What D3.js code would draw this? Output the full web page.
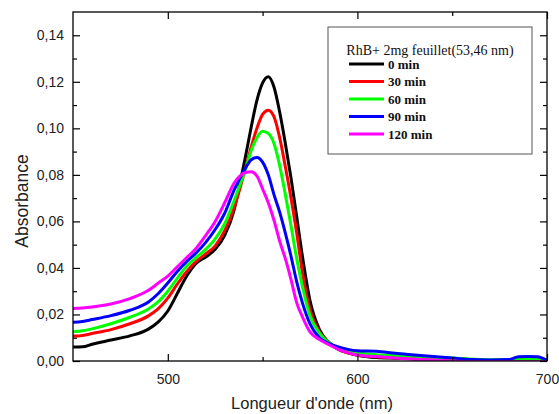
<!DOCTYPE html>
<html>
<head>
<meta charset="utf-8">
<script src="https://cdn.jsdelivr.net/npm/d3@7"></script>
<style>
  body { margin: 0; background: #fff; }
  svg { display: block; }
</style>
</head>
<body>
<div id="chart"></div>
<script>
// wavelengths (nm) shared by every series
const wavelengths = [450, 455, 460, 470, 480, 490, 495, 500, 505, 510, 515, 520, 525, 530, 535, 538, 541, 544, 547, 550, 553, 556, 559, 562, 565, 568, 571, 575, 580, 585, 590, 595, 600, 610, 620, 630, 640, 650, 660, 670, 680, 685, 690, 695, 700];

const min0 = [0.0060, 0.0061, 0.0072, 0.0090, 0.0108, 0.0138, 0.0168, 0.0215, 0.0290, 0.0365, 0.0420, 0.0447, 0.0480, 0.0540, 0.0650, 0.0760, 0.0880, 0.1006, 0.1120, 0.1195, 0.1222, 0.1178, 0.1070, 0.0935, 0.0785, 0.0620, 0.0450, 0.0260, 0.0135, 0.0080, 0.0050, 0.0035, 0.0025, 0.0015, 0.0012, 0.0010, 0.0008, 0.0003, 0.0001, 0.0000, 0.0000, 0.0000, 0.0000, 0.0000, 0.0000];
const min30 = [0.0107, 0.0110, 0.0118, 0.0135, 0.0160, 0.0195, 0.0225, 0.0270, 0.0330, 0.0385, 0.0428, 0.0460, 0.0495, 0.0560, 0.0660, 0.0740, 0.0830, 0.0920, 0.1000, 0.1060, 0.1078, 0.1050, 0.0960, 0.0835, 0.0700, 0.0550, 0.0380, 0.0220, 0.0125, 0.0078, 0.0050, 0.0035, 0.0026, 0.0018, 0.0014, 0.0012, 0.0010, 0.0008, 0.0004, 0.0002, 0.0000, 0.0000, 0.0000, 0.0000, 0.0000];
const min60 = [0.0126, 0.0130, 0.0138, 0.0160, 0.0188, 0.0225, 0.0255, 0.0300, 0.0355, 0.0408, 0.0445, 0.0480, 0.0525, 0.0590, 0.0690, 0.0755, 0.0825, 0.0905, 0.0960, 0.0988, 0.0978, 0.0935, 0.0840, 0.0715, 0.0580, 0.0440, 0.0320, 0.0195, 0.0120, 0.0078, 0.0055, 0.0042, 0.0035, 0.0027, 0.0024, 0.0020, 0.0016, 0.0013, 0.0008, 0.0005, 0.0006, 0.0008, 0.0008, 0.0008, 0.0004];
const min90 = [0.0166, 0.0170, 0.0178, 0.0195, 0.0218, 0.0255, 0.0290, 0.0335, 0.0385, 0.0428, 0.0465, 0.0510, 0.0565, 0.0635, 0.0735, 0.0785, 0.0830, 0.0865, 0.0875, 0.0855, 0.0800, 0.0715, 0.0640, 0.0550, 0.0450, 0.0340, 0.0250, 0.0160, 0.0100, 0.0075, 0.0060, 0.0050, 0.0044, 0.0042, 0.0033, 0.0026, 0.0019, 0.0013, 0.0006, 0.0004, 0.0006, 0.0018, 0.0019, 0.0018, 0.0002];
const min120 = [0.0226, 0.0228, 0.0232, 0.0245, 0.0268, 0.0305, 0.0335, 0.0365, 0.0405, 0.0445, 0.0485, 0.0540, 0.0600, 0.0680, 0.0765, 0.0795, 0.0810, 0.0813, 0.0795, 0.0740, 0.0680, 0.0605, 0.0515, 0.0440, 0.0350, 0.0250, 0.0190, 0.0125, 0.0092, 0.0070, 0.0050, 0.0036, 0.0026, 0.0019, 0.0013, 0.0008, 0.0004, 0.0000, -0.0003, -0.0003, -0.0003, -0.0003, -0.0003, -0.0003, -0.0003];

const seriesNames = ["0 min", "30 min", "60 min", "90 min", "120 min"];
const seriesValues = [min0, min30, min60, min90, min120];
const seriesColors = ["#000000", "#ff0000", "#00ff00", "#0000ff", "#ff00ff"];

const xTicks = [500, 600, 700];
const xMinorTicks = [550, 650];
const yTicks = [0, 0.02, 0.04, 0.06, 0.08, 0.10, 0.12, 0.14];
const yMinorTicks = [0.01, 0.03, 0.05, 0.07, 0.09, 0.11, 0.13];

const legendTitle = "RhB+ 2mg feuillet(53,46 nm)";

const width = 559, height = 414;
const margin = {top: 12, right: 12, bottom: 53, left: 73};
const innerW = width - margin.left - margin.right;
const innerH = height - margin.top - margin.bottom;

const svg = d3.select("#chart").append("svg")
  .attr("width", width)
  .attr("height", height);

const x = d3.scaleLinear().domain([450, 700]).range([0, innerW]);
const y = d3.scaleLinear().domain([0, 0.15]).range([innerH, 0]);

const g = svg.append("g")
  .attr("transform", `translate(${margin.left},${margin.top})`);

g.append("clipPath").attr("id", "clip")
  .append("rect").attr("width", innerW).attr("height", innerH);

const comma = d => d3.format(".2f")(d).replace(".", ",");

// curves
const line = d3.line()
  .x((d, i) => x(wavelengths[i]))
  .y(d => y(d))
  .curve(d3.curveMonotoneX);

const curves = g.append("g").attr("clip-path", "url(#clip)");
seriesValues.forEach((vals, i) => {
  curves.append("path")
    .datum(vals)
    .attr("fill", "none")
    .attr("stroke", seriesColors[i])
    .attr("stroke-width", 3)
    .attr("stroke-linejoin", "round")
    .attr("d", line);
});

// axes, ticks pointing inward on all four sides
const axisFont = "'Liberation Sans', Arial, sans-serif";

function styleAxis(sel) {
  sel.select(".domain").remove();
  sel.selectAll("line").attr("stroke", "#000").attr("stroke-width", 1.2);
  sel.selectAll("text").attr("font-family", axisFont).attr("font-size", 14).attr("fill", "#222");
}

g.append("g")
  .attr("transform", `translate(0,${innerH})`)
  .call(d3.axisBottom(x).tickValues(xTicks).tickSize(-7).tickPadding(13).tickFormat(d3.format("d")))
  .call(styleAxis);
g.append("g")
  .attr("transform", `translate(0,${innerH})`)
  .call(d3.axisBottom(x).tickValues(xMinorTicks).tickSize(-4).tickFormat(""))
  .call(styleAxis);
g.append("g")
  .call(d3.axisTop(x).tickValues(xTicks).tickSize(-7).tickFormat(""))
  .call(styleAxis);
g.append("g")
  .call(d3.axisTop(x).tickValues(xMinorTicks).tickSize(-4).tickFormat(""))
  .call(styleAxis);

g.append("g")
  .call(d3.axisLeft(y).tickValues(yTicks).tickSize(-7).tickPadding(9).tickFormat(comma))
  .call(styleAxis);
g.append("g")
  .call(d3.axisLeft(y).tickValues(yMinorTicks).tickSize(-4).tickFormat(""))
  .call(styleAxis);
g.append("g")
  .attr("transform", `translate(${innerW},0)`)
  .call(d3.axisRight(y).tickValues(yTicks).tickSize(-7).tickFormat(""))
  .call(styleAxis);
g.append("g")
  .attr("transform", `translate(${innerW},0)`)
  .call(d3.axisRight(y).tickValues(yMinorTicks).tickSize(-4).tickFormat(""))
  .call(styleAxis);

// frame
g.append("rect")
  .attr("width", innerW)
  .attr("height", innerH)
  .attr("fill", "none")
  .attr("stroke", "#000")
  .attr("stroke-width", 1.3);

// axis titles
svg.append("text")
  .attr("x", margin.left + innerW / 2 + 2)
  .attr("y", 409)
  .attr("text-anchor", "middle")
  .attr("font-family", axisFont)
  .attr("font-size", 16.5)
  .attr("fill", "#222")
  .text("Longueur d'onde (nm)");

svg.append("text")
  .attr("transform", "translate(28,201) rotate(-90)")
  .attr("text-anchor", "middle")
  .attr("font-family", axisFont)
  .attr("font-size", 17.5)
  .attr("fill", "#222")
  .text("Absorbance");

// legend
const serif = "'Liberation Serif', 'Times New Roman', serif";
const legend = svg.append("g").attr("transform", "translate(328,27)");
legend.append("rect")
  .attr("width", 204)
  .attr("height", 127)
  .attr("fill", "#fff")
  .attr("stroke", "#555")
  .attr("stroke-width", 1);
legend.append("text")
  .attr("x", 102)
  .attr("y", 28)
  .attr("text-anchor", "middle")
  .attr("font-family", serif)
  .attr("font-size", 14)
  .attr("fill", "#111")
  .text(legendTitle);

seriesNames.forEach((name, i) => {
  const yy = 37 + i * 17.5;
  legend.append("line")
    .attr("x1", 21).attr("x2", 56)
    .attr("y1", yy).attr("y2", yy)
    .attr("stroke", seriesColors[i])
    .attr("stroke-width", 3);
  legend.append("text")
    .attr("x", 60)
    .attr("y", yy + 4.5)
    .attr("font-family", serif)
    .attr("font-size", 13)
    .attr("font-weight", "bold")
    .attr("fill", "#111")
    .text(name);
});
</script>
</body>
</html>
